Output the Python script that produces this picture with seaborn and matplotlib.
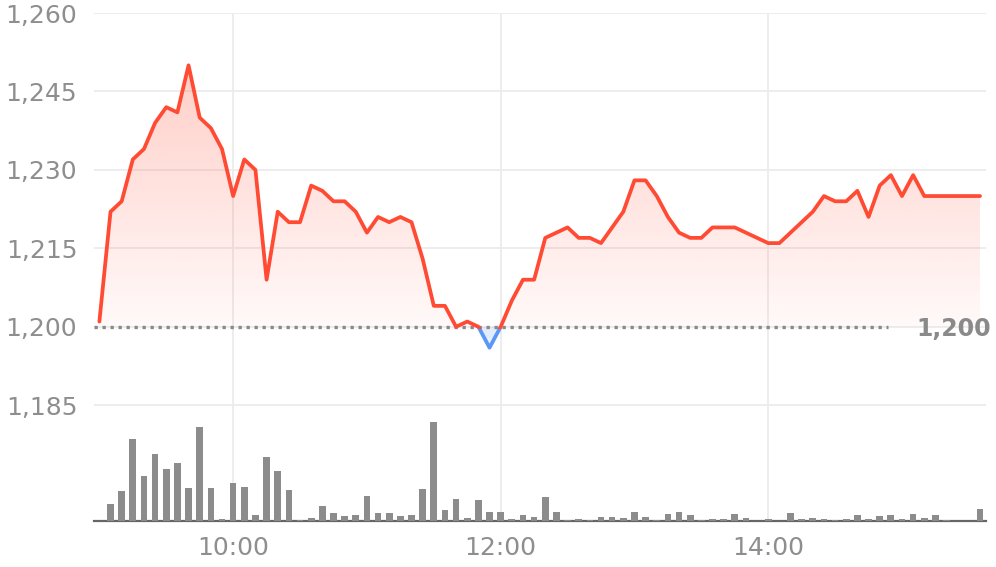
import numpy as np
import pandas as pd
import matplotlib
matplotlib.use("Agg")
import matplotlib.pyplot as plt
import seaborn as sns
from matplotlib.patches import Rectangle
from matplotlib.transforms import blended_transform_factory

# 5-minute prices and volumes, 09:00 .. 15:35
prices = [1201, 1222, 1224, 1232, 1234, 1239, 1242, 1241, 1250, 1240,
          1238, 1234, 1225, 1232, 1230, 1209, 1222, 1220, 1220, 1227,
          1226, 1224, 1224, 1222, 1218, 1221, 1220, 1221, 1220, 1213,
          1204, 1204, 1200, 1201, 1200, 1196, 1200, 1205, 1209, 1209,
          1217, 1218, 1219, 1217, 1217, 1216, 1219, 1222, 1228, 1228,
          1225, 1221, 1218, 1217, 1217, 1219, 1219, 1219, 1218, 1217,
          1216, 1216, 1218, 1220, 1222, 1225, 1224, 1224, 1226, 1221,
          1227, 1229, 1225, 1229, 1225, 1225, 1225, 1225, 1225, 1225]
volume = [0, 17, 30, 82, 45, 67, 52, 58, 33, 94,
          33, 2, 38, 34, 6, 64, 50, 31, 1, 3,
          15, 8, 5, 6, 25, 8, 8, 5, 6, 32,
          99, 11, 22, 3, 21, 9, 9, 2, 6, 4,
          24, 9, 1, 2, 1, 4, 4, 3, 9, 4,
          1, 7, 9, 6, 1, 2, 2, 7, 3, 0,
          2, 0, 8, 2, 3, 2, 1, 2, 6, 2,
          5, 6, 2, 7, 3, 6, 1, 0, 0, 12]
base_price = 1200
y_ticks = [1185, 1200, 1215, 1230, 1245, 1260]
x_tick_labels = ["10:00", "12:00", "14:00"]

times = pd.date_range("2024-01-02 09:00", periods=len(prices), freq="5min")
df = pd.DataFrame({"time": times, "price": prices, "volume": volume})
df["minute"] = (df["time"] - df["time"].iloc[0]).dt.total_seconds() / 60

RED = "#ff4b33"
BLUE = "#5b97f5"
GRAY = "#8e8e8e"

sns.set_theme(style="white")
plt.rcParams["font.family"] = ["DejaVu Sans"]

fig = plt.figure(figsize=(9.96, 5.67), dpi=100)
ax = fig.add_axes([0.0944, 0.0811, 0.8956, 0.8959])

x0, x1 = df["minute"].min(), df["minute"].max()

# gradient fill between the price line and the base price
poly = ax.fill_between(df["minute"], df["price"], base_price, color="none", lw=0)
grad_n = 256
red_img = np.zeros((grad_n, 1, 4))
red_img[:, 0, :3] = matplotlib.colors.to_rgb(RED)
red_img[:, 0, 3] = np.linspace(0.03, 0.27, grad_n)
im = ax.imshow(red_img, extent=[x0, x1, base_price, df["price"].max()],
               origin="lower", aspect="auto", zorder=1)
im.set_clip_path(poly.get_paths()[0], transform=ax.transData)

blue_img = np.zeros((2, 1, 4))
blue_img[:, 0, :3] = matplotlib.colors.to_rgb(BLUE)
blue_img[:, 0, 3] = [0.12, 0.18]
im2 = ax.imshow(blue_img, extent=[x0, x1, df["price"].min(), base_price],
                origin="lower", aspect="auto", zorder=1)
im2.set_clip_path(poly.get_paths()[0], transform=ax.transData)

# dotted base line
ax.axhline(base_price, xmin=0, xmax=0.89, color="#8a8a8a", lw=2.4,
           linestyle=(0, (1, 1.4)), dash_capstyle="butt", zorder=3)

# price line: red above base, blue below
cut = base_price - 0.4
sns.lineplot(data=df, x="minute", y="price", color=RED, lw=2.7, ax=ax, zorder=4)
ax.lines[-1].set_clip_path(Rectangle((x0 - 50, cut), x1 + 100, 200, transform=ax.transData))
sns.lineplot(data=df, x="minute", y="price", color=BLUE, lw=2.7, ax=ax, zorder=4)
ax.lines[-1].set_clip_path(Rectangle((x0 - 50, cut - 200), x1 + 100, 200, transform=ax.transData))

ax.set_xlim(-2.4, 397.7)
ax.set_ylim(1162.85, 1260)
ax.set_xticks([60, 180, 300])
ax.set_xticklabels(x_tick_labels)
ax.set_yticks(y_ticks)
ax.set_yticklabels([f"{v:,}" for v in y_ticks])
ax.grid(True, color="#ececec", lw=1.3, zorder=0)
ax.set_axisbelow(True)
ax.set_xlabel("")
ax.set_ylabel("")
for s in ["top", "right", "left"]:
    ax.spines[s].set_visible(False)
ax.spines["bottom"].set_color("#666666")
ax.spines["bottom"].set_linewidth(1.6)
ax.tick_params(axis="x", length=5, width=1.5, color="#666666", labelcolor=GRAY,
               labelsize=18, pad=6)
ax.tick_params(axis="y", length=0, labelcolor=GRAY, labelsize=18, pad=12)

# volume bars on a twin axis
ax2 = ax.twinx()
ax2.bar(df["minute"], df["volume"], width=3.0, color="#8c8c8c",
        edgecolor="none", linewidth=0, zorder=2)
ax2.set_ylim(0, 508)
ax2.set_axis_off()
ax2.set_xlim(-2.4, 397.7)

# base price label on the right
trans = blended_transform_factory(fig.transFigure, ax.transData)
ax.text(991 / 996, base_price - 1.8, f"{base_price:,}", transform=trans,
        ha="right", va="baseline", fontsize=17, fontweight="bold", color="#8a8a8a",
        clip_on=False)

fig.savefig("out.png", dpi=100)
